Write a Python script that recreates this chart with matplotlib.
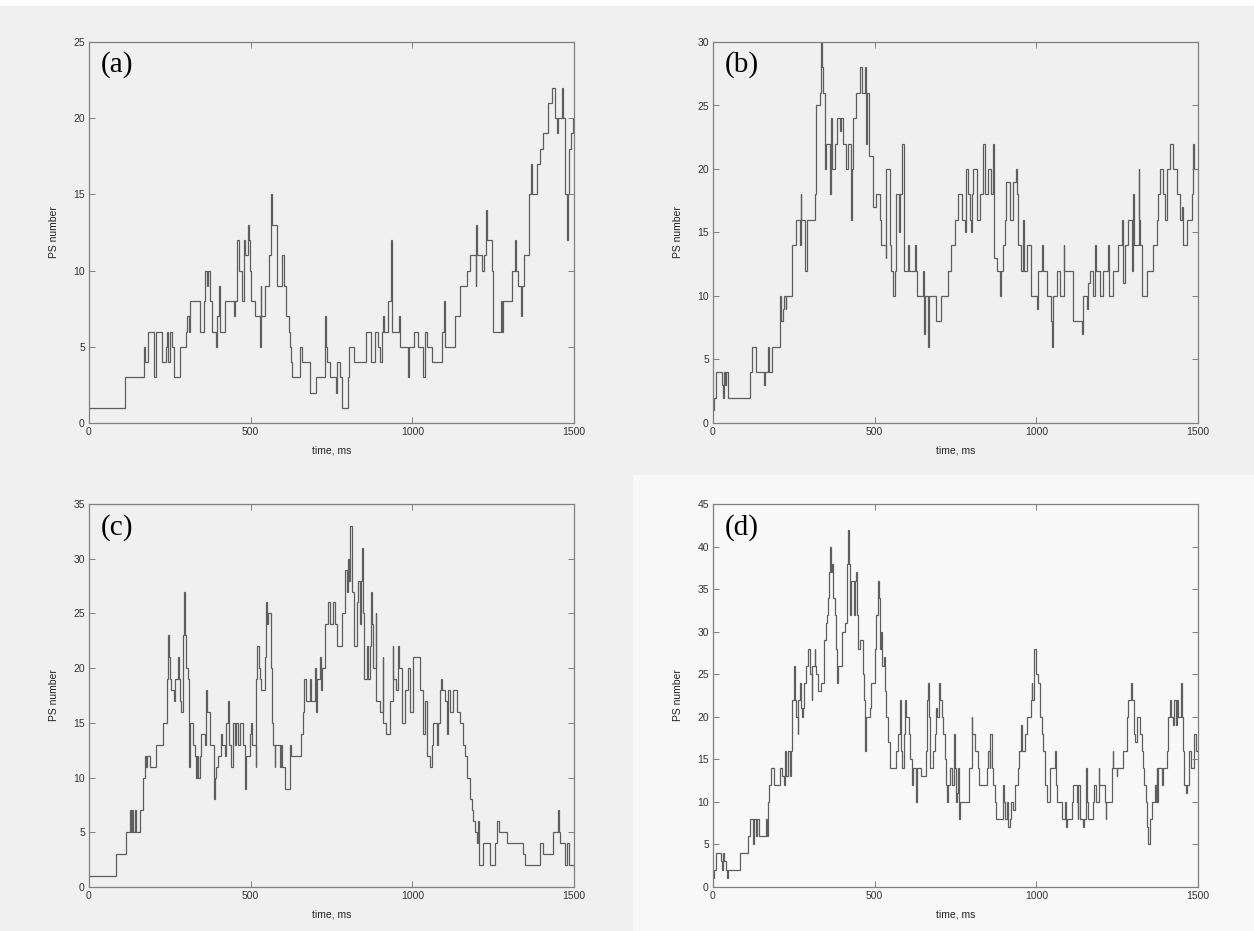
import matplotlib.pyplot as plt
from matplotlib.patches import Rectangle

# PS number vs time (ms), step series
t_a = [0, 112, 170, 173, 182, 200, 207, 226, 237, 240,
       244, 250, 257, 263, 282, 301, 304, 308, 311, 342,
       355, 358, 365, 368, 375, 381, 394, 397, 402, 404,
       421, 447, 451, 458, 463, 474, 478, 484, 492, 495,
       497, 502, 514, 528, 531, 533, 545, 556, 564, 567,
       581, 596, 602, 608, 619, 622, 625, 629, 652, 660,
       682, 703, 729, 732, 736, 746, 764, 767, 776, 784,
       802, 805, 819, 858, 871, 884, 895, 900, 905, 910,
       913, 926, 934, 937, 960, 962, 987, 990, 1005, 1018,
       1034, 1038, 1044, 1060, 1091, 1098, 1101, 1132, 1147, 1168,
       1178, 1196, 1198, 1201, 1214, 1222, 1228, 1231, 1245, 1251,
       1273, 1276, 1281, 1307, 1318, 1321, 1328, 1336, 1338, 1346,
       1362, 1367, 1370, 1385, 1395, 1405, 1421, 1431, 1441, 1447,
       1452, 1464, 1467, 1472, 1478, 1481, 1483, 1490, 1498]
ps_a = [1, 3, 5, 4, 6, 3, 6, 4, 5, 6,
        4, 6, 5, 3, 5, 6, 7, 6, 8, 6,
        8, 10, 9, 10, 8, 6, 5, 7, 9, 6,
        8, 7, 8, 12, 10, 8, 12, 11, 13, 12,
        10, 8, 7, 5, 9, 7, 9, 11, 15, 13,
        9, 11, 9, 7, 6, 5, 4, 3, 5, 4,
        2, 3, 7, 5, 4, 3, 2, 4, 3, 1,
        3, 5, 4, 6, 4, 6, 5, 4, 6, 7,
        6, 8, 12, 6, 7, 5, 3, 5, 6, 5,
        3, 6, 5, 4, 6, 8, 5, 7, 9, 10,
        11, 9, 13, 11, 10, 11, 14, 12, 10, 6,
        8, 6, 8, 10, 12, 10, 9, 7, 9, 11,
        15, 17, 15, 17, 18, 19, 21, 22, 20, 19,
        20, 22, 20, 15, 12, 15, 18, 19, 20]

t_b = [0, 3, 10, 29, 31, 33, 36, 41, 46, 113,
       121, 134, 158, 161, 170, 173, 184, 206, 209, 216,
       219, 225, 227, 245, 258, 268, 271, 273, 284, 291,
       314, 318, 320, 330, 335, 338, 340, 345, 348, 361,
       364, 369, 376, 384, 392, 396, 402, 412, 418, 426,
       429, 433, 443, 454, 462, 469, 474, 477, 483, 495,
       505, 516, 521, 534, 536, 548, 552, 557, 562, 567,
       575, 577, 586, 590, 603, 606, 624, 627, 631, 648,
       652, 655, 665, 668, 689, 706, 727, 737, 747, 758,
       769, 779, 784, 789, 794, 797, 800, 803, 815, 825,
       836, 841, 850, 860, 867, 870, 877, 887, 890, 898,
       903, 905, 918, 929, 937, 939, 944, 954, 960, 963,
       970, 985, 1003, 1006, 1019, 1021, 1032, 1045, 1048, 1050,
       1065, 1073, 1085, 1087, 1114, 1140, 1144, 1156, 1161, 1166,
       1176, 1181, 1184, 1197, 1207, 1221, 1224, 1238, 1254, 1264,
       1267, 1269, 1274, 1285, 1295, 1300, 1303, 1316, 1319, 1321,
       1326, 1341, 1362, 1372, 1377, 1383, 1393, 1398, 1403, 1414,
       1424, 1436, 1444, 1450, 1455, 1465, 1481, 1484, 1488]
ps_b = [1, 2, 4, 3, 2, 4, 3, 4, 2, 4,
        6, 4, 3, 4, 6, 4, 6, 10, 8, 9,
        10, 9, 10, 14, 16, 14, 18, 16, 12, 16,
        18, 22, 25, 26, 30, 28, 26, 20, 22, 18,
        24, 20, 22, 24, 23, 24, 22, 20, 22, 16,
        20, 24, 26, 28, 26, 28, 22, 26, 21, 17,
        18, 16, 14, 13, 20, 14, 12, 10, 12, 18,
        15, 18, 22, 12, 14, 12, 14, 12, 10, 12,
        7, 10, 6, 10, 8, 10, 12, 14, 16, 18,
        16, 15, 20, 18, 16, 15, 18, 20, 16, 18,
        22, 18, 20, 18, 22, 13, 12, 10, 12, 14,
        16, 19, 16, 19, 20, 18, 14, 12, 16, 12,
        14, 10, 9, 12, 14, 12, 10, 8, 6, 10,
        12, 10, 14, 12, 8, 7, 10, 9, 11, 12,
        10, 14, 12, 10, 12, 14, 10, 12, 14, 16,
        14, 11, 14, 16, 12, 18, 14, 20, 16, 14,
        10, 12, 14, 16, 18, 20, 18, 16, 20, 22,
        20, 18, 16, 17, 14, 16, 18, 22, 20]

t_c = [0, 85, 115, 126, 129, 133, 136, 141, 146, 159,
       167, 172, 177, 180, 188, 208, 229, 241, 245, 248,
       250, 255, 263, 265, 275, 278, 280, 286, 291, 294,
       296, 301, 306, 309, 311, 322, 327, 330, 334, 338,
       342, 347, 358, 363, 366, 375, 387, 390, 394, 399,
       409, 412, 420, 425, 430, 432, 440, 445, 451, 456,
       461, 468, 476, 481, 484, 487, 499, 502, 504, 516,
       518, 521, 525, 528, 533, 543, 548, 551, 554, 564,
       567, 569, 574, 576, 590, 595, 597, 607, 623, 626,
       657, 662, 664, 670, 682, 687, 698, 701, 705, 713,
       719, 722, 729, 739, 744, 755, 760, 766, 784, 791,
       797, 802, 805, 807, 812, 819, 828, 833, 838, 840,
       843, 846, 850, 860, 863, 869, 872, 874, 879, 887,
       889, 900, 908, 910, 920, 931, 939, 941, 951, 957,
       960, 967, 977, 987, 993, 1003, 1024, 1032, 1039, 1044,
       1055, 1060, 1065, 1075, 1078, 1085, 1089, 1092, 1101, 1106,
       1111, 1116, 1125, 1137, 1147, 1158, 1163, 1168, 1178, 1183,
       1189, 1194, 1199, 1202, 1205, 1220, 1240, 1256, 1263, 1267,
       1292, 1343, 1349, 1395, 1405, 1434, 1452, 1455, 1457, 1472,
       1477, 1483]
ps_c = [1, 3, 5, 7, 5, 7, 5, 7, 5, 7,
        10, 12, 11, 12, 11, 13, 15, 19, 23, 21,
        19, 18, 17, 19, 21, 19, 17, 16, 23, 27,
        23, 20, 19, 11, 15, 13, 12, 10, 12, 10,
        12, 14, 13, 18, 16, 13, 8, 10, 11, 12,
        14, 13, 12, 15, 17, 13, 11, 15, 13, 15,
        13, 15, 13, 11, 9, 12, 14, 15, 13, 11,
        19, 22, 20, 19, 18, 21, 26, 24, 25, 20,
        15, 13, 11, 13, 11, 13, 11, 9, 13, 12,
        14, 16, 19, 17, 19, 17, 20, 16, 19, 21,
        18, 20, 24, 26, 24, 26, 24, 22, 25, 29,
        27, 30, 28, 33, 27, 22, 26, 28, 24, 28,
        31, 25, 19, 22, 19, 22, 27, 24, 20, 25,
        17, 16, 21, 15, 14, 17, 22, 19, 18, 22,
        20, 15, 18, 20, 16, 21, 18, 14, 17, 12,
        11, 13, 15, 13, 15, 18, 19, 18, 17, 14,
        18, 16, 18, 16, 15, 13, 12, 10, 8, 7,
        6, 5, 4, 6, 2, 4, 2, 4, 6, 5,
        4, 3, 2, 4, 3, 5, 7, 5, 4, 2,
        4, 2]

t_d = [0, 3, 10, 26, 29, 31, 34, 39, 43, 46,
       85, 108, 115, 124, 127, 134, 137, 141, 165, 168,
       170, 172, 178, 188, 208, 214, 220, 222, 227, 232,
       237, 240, 244, 251, 253, 258, 262, 264, 268, 273,
       276, 278, 281, 287, 294, 299, 305, 307, 314, 317,
       320, 325, 335, 342, 348, 352, 356, 359, 361, 364,
       369, 371, 376, 381, 385, 388, 400, 409, 415, 419,
       421, 425, 428, 435, 438, 442, 445, 448, 454, 464,
       467, 470, 474, 485, 490, 500, 505, 510, 513, 516,
       521, 524, 528, 531, 536, 541, 546, 567, 572, 577,
       580, 586, 590, 595, 598, 606, 610, 616, 620, 627,
       631, 644, 658, 662, 666, 668, 670, 680, 686, 689,
       693, 698, 702, 707, 710, 717, 722, 724, 726, 733,
       738, 745, 747, 751, 755, 758, 762, 765, 792, 800,
       802, 810, 820, 823, 846, 851, 856, 858, 862, 867,
       872, 875, 896, 901, 903, 908, 913, 918, 923, 929,
       934, 944, 947, 954, 956, 965, 972, 982, 986, 988,
       994, 998, 1006, 1011, 1016, 1021, 1027, 1034, 1042, 1058,
       1060, 1063, 1078, 1089, 1092, 1094, 1109, 1114, 1125, 1128,
       1130, 1135, 1145, 1147, 1154, 1156, 1161, 1174, 1178, 1184,
       1193, 1195, 1212, 1215, 1217, 1233, 1236, 1238, 1248, 1250,
       1269, 1279, 1284, 1294, 1296, 1302, 1305, 1310, 1321, 1326,
       1329, 1334, 1339, 1343, 1346, 1350, 1352, 1357, 1367, 1369,
       1372, 1374, 1377, 1388, 1393, 1403, 1408, 1414, 1417, 1424,
       1427, 1432, 1434, 1439, 1446, 1450, 1455, 1458, 1462, 1465,
       1473, 1477, 1488, 1494]
ps_d = [1, 2, 4, 3, 2, 4, 3, 2, 1, 2,
        4, 6, 8, 5, 8, 6, 8, 6, 8, 6,
        10, 12, 14, 12, 14, 13, 12, 16, 13, 16,
        13, 16, 22, 26, 22, 20, 18, 22, 24, 21,
        20, 21, 24, 26, 28, 25, 22, 26, 28, 26,
        25, 23, 24, 29, 31, 32, 34, 37, 40, 37,
        38, 34, 32, 28, 24, 26, 30, 31, 38, 42,
        38, 32, 36, 32, 36, 37, 32, 28, 29, 25,
        22, 16, 20, 21, 24, 28, 32, 36, 34, 28,
        30, 26, 27, 23, 20, 17, 14, 16, 18, 22,
        16, 14, 18, 22, 20, 18, 15, 12, 14, 10,
        14, 13, 16, 22, 24, 20, 14, 16, 18, 21,
        20, 24, 22, 20, 18, 15, 12, 10, 12, 14,
        12, 18, 14, 10, 11, 14, 8, 10, 14, 20,
        18, 16, 14, 12, 14, 16, 14, 18, 14, 12,
        10, 8, 12, 10, 8, 10, 7, 8, 10, 9,
        12, 14, 16, 19, 16, 18, 20, 22, 24, 22,
        28, 25, 24, 20, 18, 16, 12, 10, 14, 16,
        12, 10, 8, 10, 7, 8, 10, 12, 10, 8,
        12, 8, 7, 8, 14, 10, 8, 10, 12, 10,
        14, 12, 10, 8, 10, 14, 16, 14, 13, 14,
        16, 20, 22, 24, 22, 18, 17, 20, 18, 16,
        14, 12, 10, 7, 5, 6, 8, 10, 12, 10,
        14, 10, 14, 12, 14, 16, 20, 22, 20, 19,
        22, 19, 22, 20, 24, 20, 16, 12, 11, 12,
        16, 14, 18, 16]

panel_labels = ['(a)', '(b)', '(c)', '(d)']
y_max = [25, 30, 35, 45]
x_ticks = [0, 500, 1000, 1500]
t_end = 1500

W, H = 1254, 931
plt.rcParams['font.family'] = ['Liberation Sans', 'DejaVu Sans']
plt.rcParams['xtick.direction'] = 'in'
plt.rcParams['ytick.direction'] = 'in'
plt.rcParams['xtick.top'] = True
plt.rcParams['ytick.right'] = True

fig = plt.figure(figsize=(W / 100, H / 100), dpi=100, facecolor='#f0f0f0')
# white strip at the very top and a lighter quadrant behind (d)
fig.patches.append(Rectangle((0, 1 - 6 / H), 1, 6 / H, transform=fig.transFigure,
                             facecolor='white', edgecolor='none', zorder=-10))
fig.patches.append(Rectangle((633 / W, 0), 1 - 633 / W, 456 / H, transform=fig.transFigure,
                             facecolor='#f8f8f8', edgecolor='none', zorder=-10))

# axes boxes in pixels: left, top, right, bottom
boxes = [(89, 42, 574, 423), (713, 42, 1198, 423),
         (89, 504, 574, 887), (713, 504, 1198, 887)]
series = [(t_a, ps_a), (t_b, ps_b), (t_c, ps_c), (t_d, ps_d)]

for i, ((l, t, r, b), (ts, ps)) in enumerate(zip(boxes, series)):
    ax = fig.add_axes([l / W, 1 - b / H, (r - l) / W, (b - t) / H])
    ax.set_facecolor('#f8f8f8' if i == 3 else '#f0f0f0')
    ax.stairs(ps, ts + [t_end], baseline=None, color='#5e5e5e', linewidth=0.9)
    ax.set_xlim(0, t_end)
    ax.set_ylim(0, y_max[i])
    ax.set_xticks(x_ticks)
    ax.set_yticks(range(0, y_max[i] + 1, 5))
    ax.tick_params(length=4, width=0.7, color='#808080', labelsize=7.5,
                   labelcolor='#333333', pad=3)
    for s in ax.spines.values():
        s.set_color('#808080')
        s.set_linewidth(0.9)
    ax.set_xlabel('time, ms', fontsize=7.5, color='#222222', labelpad=6)
    ax.set_ylabel('PS number', fontsize=7.5, color='#222222', labelpad=10)
    ax.text(0.025, 0.975, panel_labels[i], transform=ax.transAxes, ha='left', va='top',
            fontsize=21, family=['Liberation Serif', 'DejaVu Serif'], color='black')

fig.savefig('out.png', dpi=100, facecolor=fig.get_facecolor())
